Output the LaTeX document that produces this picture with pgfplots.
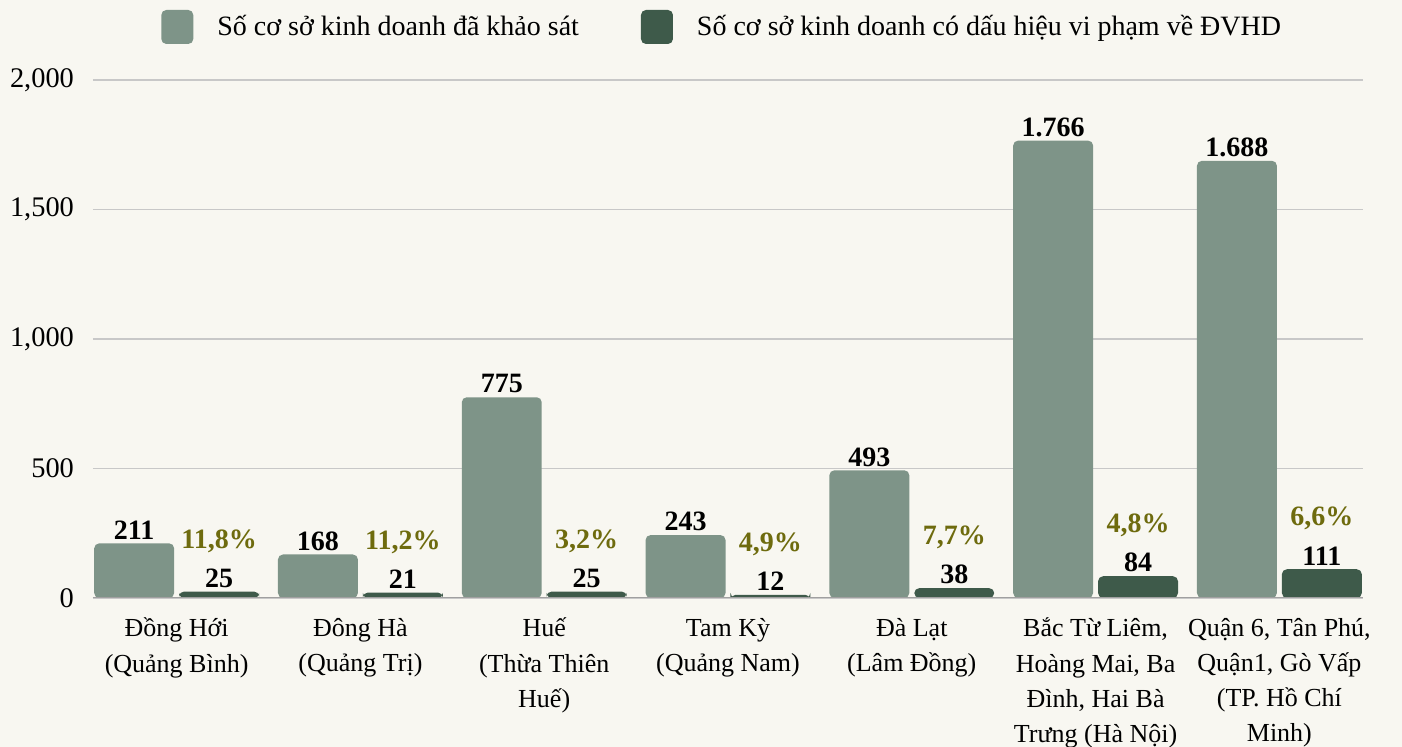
\documentclass[border=0pt]{standalone}
\usepackage{pgfplots}
\pgfplotsset{compat=1.18}
\usepackage{pgfplotstable}
\usepackage{fontspec}
\setmainfont{Liberation Serif}
\definecolor{bg}{HTML}{F8F7F1}
\definecolor{lightbar}{HTML}{7E9488}
\definecolor{darkbar}{HTML}{3E5A4A}
\definecolor{olivetxt}{HTML}{6E6B0E}
\definecolor{gridc}{HTML}{C8C8C8}
\definecolor{basec}{HTML}{A0A0A0}

\pgfplotstableread{
x val lab
0 211 211
1 168 168
2 775 775
3 243 243
4 493 493
5 1766 1.766
6 1688 1.688
}\surveyed

\pgfplotstableread{
x val lab pct
0 25 25 11,8
1 21 21 11,2
2 25 25 3,2
3 12 12 4,9
4 38 38 7,7
5 84 84 4,8
6 111 111 6,6
}\violating

\begin{document}
\begin{tikzpicture}
\path[use as bounding box, fill=bg] (-46.5pt,-74.5pt) rectangle (654.5pt,299pt);
\begin{axis}[
  scale only axis,
  width=635pt, height=259pt,
  xmin=-0.455, xmax=6.455,
  ymin=0, ymax=2000,
  ybar, bar width=0.435,
  axis line style={draw=none},
  major tick length=0pt,
  ytick={0,500,1000,1500,2000},
  ymajorgrids,
  grid style={gridc, line width=0.8pt},
  /pgf/number format/assume math mode=true,
  /pgf/number format/1000 sep={,},
  yticklabel style={font=\fontsize{14.2}{14.2}\selectfont, xshift=-6pt},
  xtick={0,1,2,3,4,5,6},
  xticklabels={
    {Đồng Hới\\(Quảng Bình)},
    {Đông Hà\\(Quảng Trị)},
    {Huế\\(Thừa Thiên\\Huế)},
    {Tam Kỳ\\(Quảng Nam)},
    {Đà Lạt\\(Lâm Đồng)},
    {Bắc Từ Liêm,\\Hoàng Mai, Ba\\Đình, Hai Bà\\Trưng (Hà Nội)},
    {Quận 6, Tân Phú,\\Quận1, Gò Vấp\\(TP. Hồ Chí\\Minh)}},
  xticklabel style={font=\fontsize{13}{17.6}\selectfont, align=center, yshift=-6.5pt},
  legend columns=2,
  legend style={at={(0.4962,1)}, anchor=center, yshift=26.5pt, draw=none, fill=none,
    font=\fontsize{14}{14}\selectfont,
    /tikz/every even column/.append style={column sep=29pt}},
  legend image code/.code={\fill[#1, draw=none] (0pt,-8.5pt) rectangle (16pt,8.5pt); \path (26pt,0pt);},
  point meta=explicit symbolic,
  nodes near coords,
  every node near coord/.append style={font=\fontsize{14}{14}\selectfont\bfseries, anchor=south, inner sep=1.8pt, text=black},
]
\addplot[fill=lightbar, draw=none, bar shift=-0.231, rounded corners=2.5pt] table[x=x, y=val, meta=lab] {\surveyed};
\addlegendentry{Số cơ sở kinh doanh đã khảo sát}
\addplot[fill=darkbar, draw=none, bar shift=0.231, rounded corners=2.5pt] table[x=x, y=val, meta=lab] {\violating};
\addlegendentry{Số cơ sở kinh doanh có dấu hiệu vi phạm về ĐVHD}
\addplot[draw=none, fill=none, bar shift=0.231, forget plot,
  nodes near coords={\pgfplotspointmeta\%},
  every node near coord/.append style={text=olivetxt, yshift=17.5pt}] table[x=x, y=val, meta=pct] {\violating};
\draw[basec, line width=1pt] (rel axis cs:0,0) -- (rel axis cs:1,0);
\end{axis}
\end{tikzpicture}
\end{document}
